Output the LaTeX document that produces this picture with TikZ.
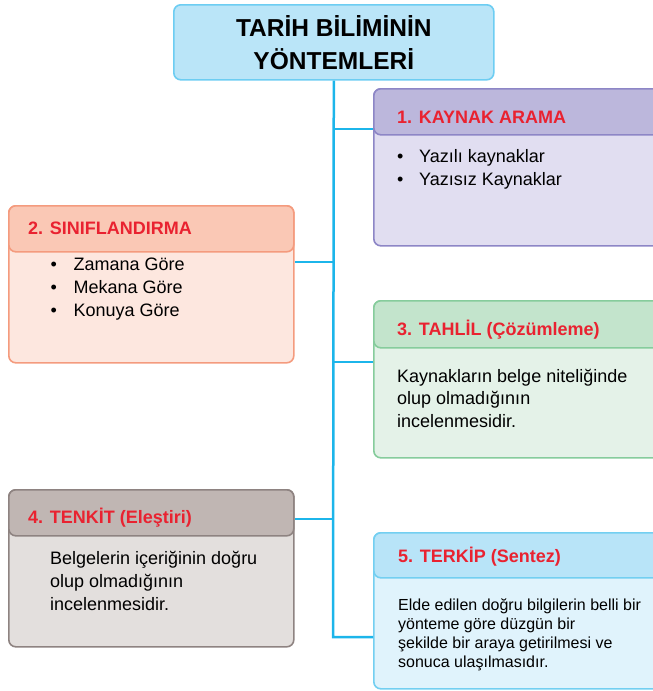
\documentclass[tikz,border=0pt]{standalone}
\usepackage{fontspec}
\setmainfont{Liberation Sans}
\definecolor{linecyan}{HTML}{1CB5EA}
\definecolor{titlefill}{HTML}{BAE5F8}
\definecolor{titledraw}{HTML}{6DCDF2}
\definecolor{hdred}{HTML}{E92230}
\definecolor{purpledraw}{HTML}{8D86C6}
\definecolor{purplehd}{HTML}{BCB7DC}
\definecolor{purplebody}{HTML}{E1DEF1}
\definecolor{salmondraw}{HTML}{F49B7E}
\definecolor{salmonhd}{HTML}{FAC8B5}
\definecolor{salmonbody}{HTML}{FDE7DF}
\definecolor{greendraw}{HTML}{86CC9C}
\definecolor{greenhd}{HTML}{C3E4CC}
\definecolor{greenbody}{HTML}{E4F2E8}
\definecolor{taupedraw}{HTML}{8E8381}
\definecolor{taupehd}{HTML}{C0B6B3}
\definecolor{taupebody}{HTML}{E3DFDD}
\definecolor{skydraw}{HTML}{73CFF1}
\definecolor{skyhd}{HTML}{B8E4F8}
\definecolor{skybody}{HTML}{E0F3FC}
\tikzset{
  panel/.style={draw, rounded corners=7pt, line width=1.6pt, anchor=north west, inner sep=0pt},
  hdtext/.style={anchor=base west, inner sep=0pt, text=hdred, font=\bfseries\fontsize{18}{22}\selectfont},
  bodytext/.style={anchor=north west, inner sep=0pt, align=left, font=\fontsize{18}{#1}\selectfont},
  smalltext/.style={anchor=north west, inner sep=0pt, align=left, font=\fontsize{16}{19.3}\selectfont},
  trunk/.style={draw=linecyan, line width=2.5pt}
}
\begin{document}
\begin{tikzpicture}[x=1pt,y=-1pt]
\useasboundingbox (0,0) rectangle (653,691);
\clip (0,0) rectangle (653,691);
\node[panel, draw=titledraw, fill=titlefill, minimum width=320, minimum height=75, align=center, font=\bfseries\fontsize{24.5}{33}\selectfont] (title) at (173,4) {TARİH BİLİMİNİN\\YÖNTEMLERİ};
\node[panel, draw=purpledraw, fill=purplebody, minimum width=300, minimum height=157] (kaynak) at (373,88) {};
\node[panel, draw=purpledraw, fill=purplehd, minimum width=300, minimum height=46] (kaynakhd) at (373,88) {};
\node[panel, draw=salmondraw, fill=salmonbody, minimum width=285, minimum height=157] (sinif) at (8,205) {};
\node[panel, draw=salmondraw, fill=salmonhd, minimum width=285, minimum height=46] (sinifhd) at (8,205) {};
\node[panel, draw=greendraw, fill=greenbody, minimum width=300, minimum height=157] (tahlil) at (373,300) {};
\node[panel, draw=greendraw, fill=greenhd, minimum width=300, minimum height=47] (tahlilhd) at (373,300) {};
\node[panel, draw=taupedraw, fill=taupebody, minimum width=285, minimum height=157] (tenkit) at (8,489) {};
\node[panel, draw=taupedraw, fill=taupehd, minimum width=285, minimum height=46] (tenkithd) at (8,489) {};
\node[panel, draw=skydraw, fill=skybody, minimum width=300, minimum height=156] (terkip) at (373,532) {};
\node[panel, draw=skydraw, fill=skyhd, minimum width=300, minimum height=45] (terkiphd) at (373,532) {};
\node[hdtext] (kaynaklbl) at (397,123) {1. KAYNAK ARAMA};
\node[hdtext] (siniflbl) at (28,234) {2. SINIFLANDIRMA};
\node[hdtext] (tahlillbl) at (397,335) {3. TAHLİL (Çözümleme)};
\node[hdtext] (tenkitlbl) at (28,523) {4. TENKİT (Eleştiri)};
\node[hdtext] (terkiplbl) at (398,562) {5. TERKİP (Sentez)};
\node[bodytext=23] (kaynaktxt) at (397,149) {\makebox[22pt][l]{\textbullet}Yazılı kaynaklar\\\makebox[22pt][l]{\textbullet}Yazısız Kaynaklar};
\node[bodytext=23] (siniftxt) at (50.5,258) {\makebox[23pt][l]{\textbullet}Zamana Göre\\\makebox[23pt][l]{\textbullet}Mekana Göre\\\makebox[23pt][l]{\textbullet}Konuya Göre};
\node[bodytext=22.5] (tahliltxt) at (397,369) {Kaynakların belge niteliğinde\\olup olmadığının\\incelenmesidir.};
\node[bodytext=23] (tenkittxt) at (50,551) {Belgelerin içeriğinin doğru\\olup olmadığının\\incelenmesidir.};
\node[smalltext] (terkiptxt) at (398,598) {Elde edilen doğru bilgilerin belli bir\\yönteme göre düzgün bir\\şekilde bir araya getirilmesi ve\\sonuca ulaşılmasıdır.};
\coordinate (j1) at (333,129);
\coordinate (j2) at (333,262);
\coordinate (j3) at (333,362);
\coordinate (j4) at (333,519);
\coordinate (j5) at (333,637);
\draw[trunk] (title.south) -- (j5) -- (j5 -| terkip.west);
\draw[trunk] (j1) -- (j1 -| kaynak.west);
\draw[trunk] (j2) -- (j2 -| sinif.east);
\draw[trunk] (j3) -- (j3 -| tahlil.west);
\draw[trunk] (j4) -- (j4 -| tenkit.east);
\end{tikzpicture}
\end{document}
